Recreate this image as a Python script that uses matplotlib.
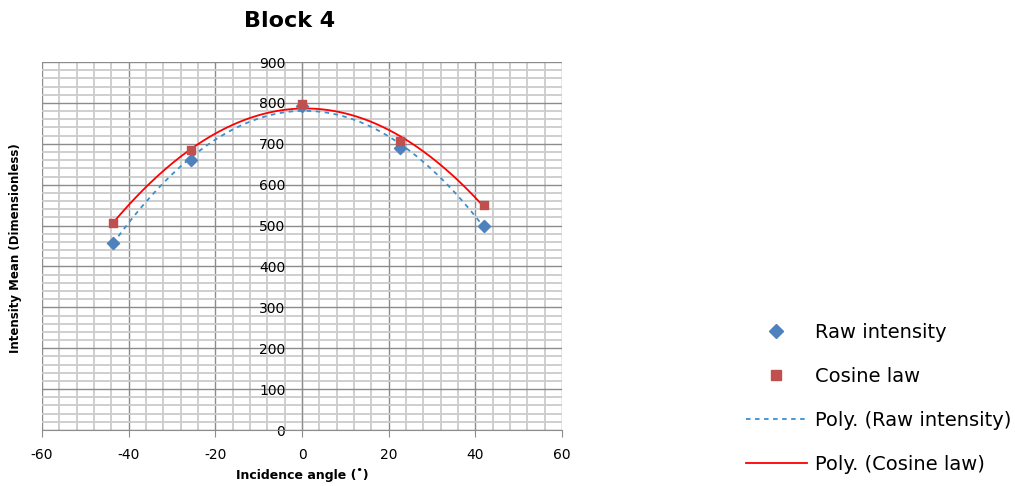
import matplotlib
matplotlib.use('Agg')
import matplotlib.pyplot as plt
from matplotlib.ticker import MultipleLocator
from matplotlib.lines import Line2D
import numpy as np

plt.rcParams['axes.unicode_minus'] = False

# incidence angles (deg) and mean intensities
angle = [-43.6, -25.6, 0.0, 22.6, 42.0]
raw_intensity = [458, 660, 792, 690, 499]
cosine_law = [507, 684, 797, 707, 550]

blue = '#4F81BD'
red = '#C0504D'

fig = plt.figure(figsize=(10.15, 4.86), dpi=100)
ax = fig.add_axes([0.0414, 0.1152, 0.5123, 0.7572])

ax.set_xlim(-60, 60)
ax.set_ylim(0, 900)
ax.xaxis.set_major_locator(MultipleLocator(20))
ax.xaxis.set_minor_locator(MultipleLocator(4))
ax.yaxis.set_major_locator(MultipleLocator(100))
ax.yaxis.set_minor_locator(MultipleLocator(20))
ax.grid(which='minor', color='#cccccc', lw=1.3)
ax.grid(which='major', color='#8c8c8c', lw=1.0)
ax.set_axisbelow(True)

for s in ('top', 'right'):
    ax.spines[s].set_visible(False)
ax.spines['left'].set_position(('data', 0))
ax.spines['left'].set_color('#8c8c8c')
ax.spines['bottom'].set_color('#8c8c8c')

# polynomial (order 2) trendlines over the data range
xs = np.linspace(min(angle), max(angle), 200)
p_raw = np.polyfit(angle, raw_intensity, 2)
p_cos = np.polyfit(angle, cosine_law, 2)
ax.plot(xs, np.polyval(p_raw, xs), color='#3a8fd0', lw=1.3, ls=(0, (2.5, 2.5)))
ax.plot(xs, np.polyval(p_cos, xs), color='#ff0000', lw=1.3)

ax.scatter(angle, raw_intensity, marker='D', s=38, color=blue, zorder=3)
ax.scatter(angle, cosine_law, marker='s', s=38, color=red, zorder=4)

ax.set_xlabel('Incidence angle (˚)', fontsize=9, fontweight='bold', labelpad=4)
fig.text(0.015, 0.49, 'Intensity Mean (Dimensionless)', rotation=90, fontsize=8.5,
         fontweight='bold', ha='center', va='center')
fig.text(0.285, 0.957, 'Block 4', fontsize=16, fontweight='bold', ha='center', va='center')

handles = [
    Line2D([], [], ls='none', marker='D', ms=7, color=blue),
    Line2D([], [], ls='none', marker='s', ms=7, color=red),
    Line2D([], [], color='#3a8fd0', lw=1.3, ls=(0, (2.5, 2.5))),
    Line2D([], [], color='#ff0000', lw=1.3),
]
labels = ['Raw intensity', 'Cosine law', 'Poly. (Raw intensity)', 'Poly. (Cosine law)']
fig.legend(handles, labels, loc='center left', bbox_to_anchor=(0.718, 0.18),
           frameon=False, fontsize=14, labelspacing=1.28, handlelength=3.1,
           handletextpad=0.45)

ax.tick_params(which='minor', length=0)
ax.tick_params(axis='x', which='major', length=5, color='#8c8c8c', labelsize=10, pad=8)
ax.tick_params(axis='y', which='major', length=0, labelsize=10)
for t in ax.yaxis.get_major_ticks():
    t.set_pad(12)

plt.savefig('out.png', dpi=100)
